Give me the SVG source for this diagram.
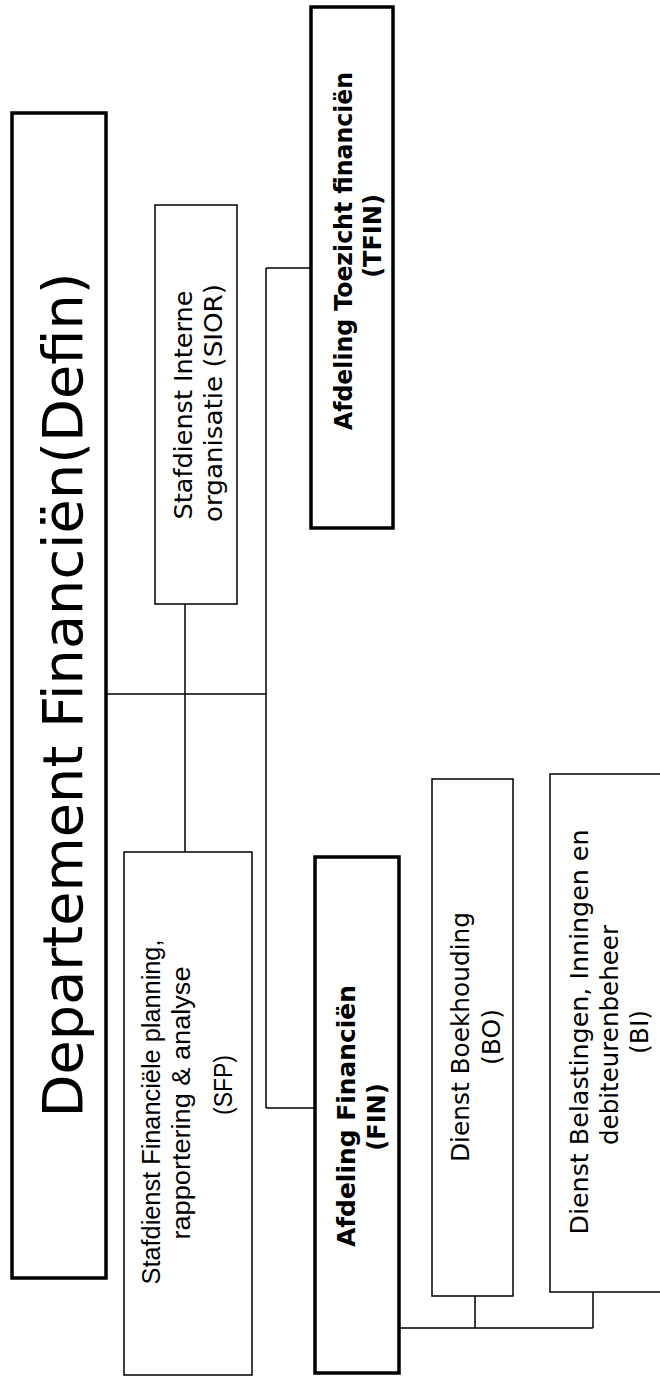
<svg xmlns="http://www.w3.org/2000/svg" width="660" height="1379" viewBox="0 0 660 1379">
  <style>
    .thick { fill: #ffffff; stroke: #000000; stroke-width: 3.5; }
    .thin { fill: #ffffff; stroke: #000000; stroke-width: 1.5; }
    .conn { fill: none; stroke: #000000; stroke-width: 1.5; }
    .v { font-family: "DejaVu Sans", Verdana, sans-serif; font-size: 25px; fill: #000000; text-anchor: middle; }
    .vb { font-family: "DejaVu Sans", Verdana, sans-serif; font-size: 24px; font-weight: bold; fill: #000000; text-anchor: middle; }
    .a { font-family: "Liberation Sans", Arial, sans-serif; font-size: 25px; fill: #000000; text-anchor: middle; }
    .title { font-family: "DejaVu Sans", Verdana, sans-serif; font-size: 55px; fill: #000000; text-anchor: middle; }
  </style>
  <rect width="660" height="1379" fill="#ffffff"/>

  <g id="connectors">
    <path class="conn" d="M106 694 H267"/>
    <path class="conn" d="M185 604 V852"/>
    <path class="conn" d="M266 268 V1108"/>
    <path class="conn" d="M266 268 H311"/>
    <path class="conn" d="M266 1108 H315"/>
    <path class="conn" d="M399 1328 H593"/>
    <path class="conn" d="M475 1296 V1328"/>
    <path class="conn" d="M593 1292 V1328"/>
  </g>

  <g id="defin">
    <rect class="thick" x="12" y="113" width="94" height="1165"/>
    <text class="title" transform="translate(82,695) rotate(-90)" textLength="845" lengthAdjust="spacingAndGlyphs">Departement Financiën(Defin)</text>
  </g>

  <g id="sior">
    <rect class="thin" x="155" y="205" width="82" height="399"/>
    <text class="v" transform="translate(192,405) rotate(-90)" textLength="229" lengthAdjust="spacingAndGlyphs">Stafdienst Interne</text>
    <text class="v" transform="translate(222,403) rotate(-90)" textLength="238" lengthAdjust="spacingAndGlyphs">organisatie (SIOR)</text>
  </g>

  <g id="sfp">
    <rect class="thin" x="124" y="852" width="128" height="523"/>
    <text class="a" transform="translate(160,1112) rotate(-90)" textLength="345" lengthAdjust="spacingAndGlyphs">Stafdienst Financiële planning,</text>
    <text class="a" transform="translate(190,1103) rotate(-90)" textLength="273" lengthAdjust="spacingAndGlyphs">rapportering &amp; analyse</text>
    <text class="a" transform="translate(232,1085) rotate(-90)" textLength="60" lengthAdjust="spacingAndGlyphs">(SFP)</text>
  </g>

  <g id="tfin">
    <rect class="thick" x="311" y="7" width="82" height="521"/>
    <text class="vb" transform="translate(352,251) rotate(-90)" textLength="358" lengthAdjust="spacingAndGlyphs">Afdeling Toezicht financiën</text>
    <text class="vb" transform="translate(381,236) rotate(-90)">(TFIN)</text>
  </g>

  <g id="fin">
    <rect class="thick" x="315" y="857" width="84" height="516"/>
    <text class="vb" transform="translate(355,1116) rotate(-90)" textLength="262" lengthAdjust="spacingAndGlyphs">Afdeling Financiën</text>
    <text class="vb" transform="translate(385,1117) rotate(-90)">(FIN)</text>
  </g>

  <g id="bo">
    <rect class="thin" x="432" y="779" width="81" height="517"/>
    <text class="v" transform="translate(469,1037) rotate(-90)" textLength="250" lengthAdjust="spacingAndGlyphs">Dienst Boekhouding</text>
    <text class="v" transform="translate(500,1037) rotate(-90)">(BO)</text>
  </g>

  <g id="bi">
    <rect class="thin" x="550" y="774" width="130" height="518"/>
    <text class="v" transform="translate(588,1032) rotate(-90)" textLength="405" lengthAdjust="spacingAndGlyphs">Dienst Belastingen, Inningen en</text>
    <text class="v" transform="translate(618,1035) rotate(-90)" textLength="220" lengthAdjust="spacingAndGlyphs">debiteurenbeheer</text>
    <text class="v" transform="translate(648,1032) rotate(-90)">(BI)</text>
  </g>
</svg>
